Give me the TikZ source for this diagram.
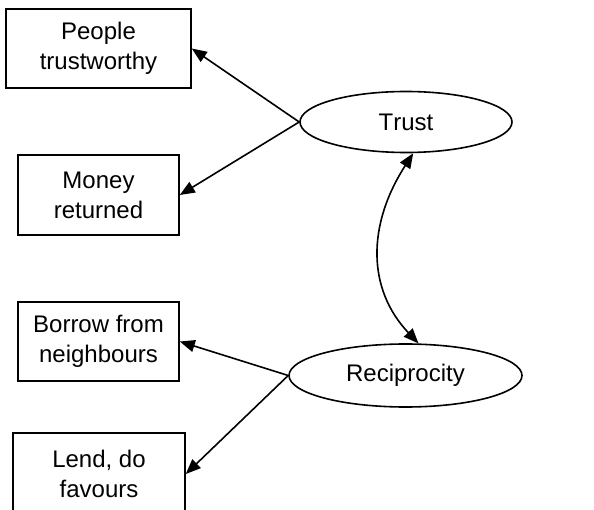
\documentclass[tikz,border=0pt]{standalone}
\usepackage{fontspec}
\setmainfont[Kerning=Off]{Liberation Sans}
\usetikzlibrary{arrows.meta,shapes.geometric}
\begin{document}
\begin{tikzpicture}[x=1pt,y=-1pt,
  every node/.style={font=\fontsize{24}{30}\selectfont, align=center, inner sep=0pt},
  box/.style={draw, line width=1.6pt, rectangle},
  oval/.style={draw, line width=1.6pt, ellipse},
  link/.style={line width=1.6pt, -{Triangle[length=15pt,width=12pt]}},
  blink/.style={line width=1.6pt, {Triangle[length=15pt,width=12pt]}-{Triangle[length=15pt,width=12pt]}}]
\useasboundingbox (0,0) rectangle (594,510);
\node[box, minimum width=185pt, minimum height=79pt] (people) at (98.5,48.5) {People\\trustworthy};
\node[box, minimum width=161pt, minimum height=80pt] (money) at (98.5,195) {Money\\returned};
\node[box, minimum width=161pt, minimum height=79pt] (borrow) at (98.5,341.5) {Borrow from\\neighbours};
\node[box, minimum width=172pt, minimum height=82pt] (lend) at (99,474) {Lend, do\\favours};
\node[oval, minimum width=212pt, minimum height=61pt] (trust) at (406,122) {Trust};
\node[oval, minimum width=233pt, minimum height=63pt] (recip) at (405.5,375.5) {Reciprocity};
\draw[link] (trust.west) -- (people.east);
\draw[link] (trust.west) -- (money.east);
\draw[link] (recip.west) -- (borrow.east);
\draw[link] (recip.west) -- (lend.east);
\draw[blink] (trust.-77) .. controls (367,225) and (367,289) .. (recip.68);
\end{tikzpicture}
\end{document}
